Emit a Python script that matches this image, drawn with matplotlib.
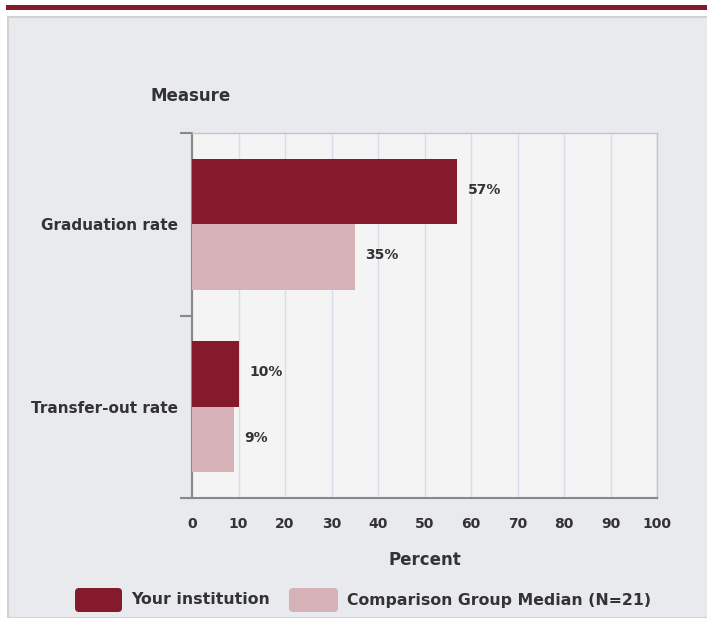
import matplotlib
matplotlib.use("Agg")
from matplotlib import pyplot as plt
from matplotlib.patches import Rectangle, FancyBboxPatch
from matplotlib.transforms import IdentityTransform

# データ
measures = ["Graduation rate", "Transfer-out rate"]
your_institution = [57, 10]
comparison_median = [35, 9]
series_names = ["Your institution", "Comparison Group Median (N=21)"]
x_ticks = [0, 10, 20, 30, 40, 50, 60, 70, 80, 90, 100]

DARK = "#841a2b"
LIGHT = "#d6b1b8"
TEXT = "#333333"
W, H = 707, 618

plt.rcParams["font.family"] = ["DejaVu Sans"]

fig = plt.figure(figsize=(W / 100, H / 100), dpi=100, facecolor="white")


def px(x, y, w, h):
    # ピクセル座標(左上基準) -> figure座標
    return [x / W, 1 - (y + h) / H, w / W, h / H]


# 背景パネルと上の帯（軸より奥に置く）
fig.patches.append(Rectangle((6 / W, 1 - 10 / H), 1, 5 / H, transform=fig.transFigure,
                             facecolor=DARK, edgecolor="none", zorder=-10))
fig.patches.append(Rectangle((8 / W, 0), 1, 1 - 17 / H, transform=fig.transFigure,
                             facecolor="#e9eaee", edgecolor="#d2d2d2", linewidth=1.5,
                             zorder=-10))

ax = fig.add_axes(px(192, 133, 465, 365))
ax.set_facecolor("#f4f4f4")

n = len(measures)
centers = [n - i - 0.5 for i in range(n)]
bar_h = 0.36
ax.barh([c + bar_h / 2 for c in centers], your_institution, height=bar_h, color=DARK,
        label=series_names[0], zorder=3)
ax.barh([c - bar_h / 2 for c in centers], comparison_median, height=bar_h, color=LIGHT,
        label=series_names[1], zorder=3)

for c, v in zip(centers, your_institution):
    ax.text(v + 2.3, c + bar_h / 2 + 0.01, f"{v}%", va="center", ha="left",
            fontsize=10, fontweight="bold", color=TEXT)
for c, v in zip(centers, comparison_median):
    ax.text(v + 2.3, c - bar_h / 2 + 0.01, f"{v}%", va="center", ha="left",
            fontsize=10, fontweight="bold", color=TEXT)

ax.set_xlim(0, 100)
ax.set_ylim(0, n)
ax.set_xticks(x_ticks)
ax.set_xticklabels([str(t) for t in x_ticks], fontsize=10, fontweight="bold", color=TEXT)
ax.tick_params(axis="x", length=0, pad=14)
ax.xaxis.grid(True, color="#d8dce8", linewidth=1, zorder=0)

ax.set_yticks(centers)
ax.set_yticklabels(measures, fontsize=11, fontweight="bold", color=TEXT)
ax.set_yticks(range(n + 1), minor=True)
ax.tick_params(axis="y", which="major", length=0, pad=10)
ax.tick_params(axis="y", which="minor", length=9, width=1.5, color="#888888")

for s in ["left", "bottom"]:
    ax.spines[s].set_color("#888888")
    ax.spines[s].set_linewidth(1.5)
for s in ["top", "right"]:
    ax.spines[s].set_color("#c4c4c4")
    ax.spines[s].set_linewidth(1)

ax.set_xlabel("Percent", fontsize=12, fontweight="bold", color=TEXT, labelpad=14)
fig.text(150 / W, 1 - 96 / H, "Measure", fontsize=12, fontweight="bold", color=TEXT,
         ha="left", va="center")

# 凡例（角丸の四角）
legend_items = [(75, 47, 131, DARK), (289, 49, 347, LIGHT)]
for (x0, w, tx, col), name in zip(legend_items, series_names):
    fig.patches.append(FancyBboxPatch((x0 + 4, H - 612 + 4), w - 8, 24 - 8,
                                      boxstyle="round,pad=4", transform=IdentityTransform(),
                                      facecolor=col, edgecolor="none"))
    fig.text(tx / W, 1 - 600 / H, name, fontsize=11.3, fontweight="bold", color=TEXT,
             ha="left", va="center")

fig.savefig("out.png", dpi=100, facecolor="white")
